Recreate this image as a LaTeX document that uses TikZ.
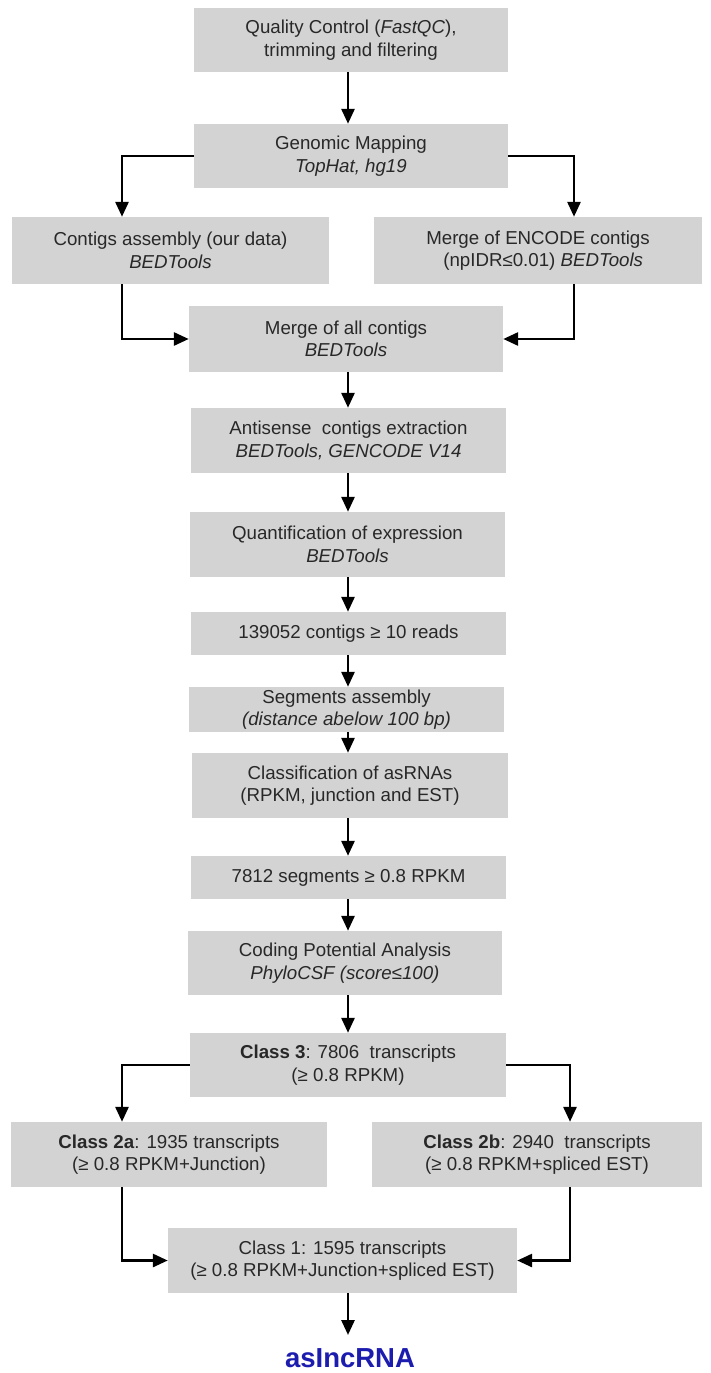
\documentclass[tikz,border=0pt]{standalone}
\usepackage{fontspec}
\setmainfont{Liberation Sans}
\usetikzlibrary{arrows.meta,calc}
\definecolor{boxgray}{RGB}{211,211,211}
\definecolor{txt}{RGB}{40,40,40}
\definecolor{rnablue}{RGB}{28,28,175}
\begin{document}
\begin{tikzpicture}[x=1pt,y=-1pt,
  box/.style={fill=boxgray, text=txt, inner sep=0pt, align=center,
    font=\fontsize{18.7}{22.5}\selectfont},
  arr/.style={line width=2.8pt, -{Triangle[length=15pt,width=13pt]}}]
\fill[white] (0,0) rectangle (711,1373);
\useasboundingbox (0,0) rectangle (711,1373);

\node[box, minimum width=314pt, minimum height=64pt] (qc) at (351,40)
  {Quality Control (\textit{FastQC}),\\trimming and filtering};
\node[box, minimum width=314pt, minimum height=64pt] (gm) at (351,156)
  {Genomic Mapping\\\textit{TopHat, hg19}};
\node[box, minimum width=317pt, minimum height=67pt] (contigs) at (170.5,250.5)
  {Contigs assembly (our data)\\\textit{BEDTools}};
\node[box, minimum width=328pt, minimum height=67pt] (encode) at (538,250.5)
  {Merge of ENCODE contigs\\\ \ (npIDR≤0.01) \textit{BEDTools}};
\node[box, minimum width=314pt, minimum height=66pt] (merge) at (346,339)
  {Merge of all contigs\\\textit{BEDTools}};
\node[box, minimum width=315pt, minimum height=65pt] (anti) at (348.5,440.5)
  {Antisense\ \ contigs extraction\\\textit{BEDTools, GENCODE V14}};
\node[box, minimum width=315pt, minimum height=65pt] (quant) at (347.5,544.5)
  {Quantification of expression\\\textit{BEDTools}};
\node[box, minimum width=315pt, minimum height=43pt] (reads) at (348.5,633.5)
  {139052 contigs ≥ 10 reads};
\node[box, minimum width=315pt, minimum height=45pt] (seg) at (346.5,709.5)
  {Segments assembly\\\textit{(distance abelow 100 bp)}};
\node[box, minimum width=316pt, minimum height=65pt] (cls) at (350,785.5)
  {Classification of asRNAs\\(RPKM, junction and EST)};
\node[box, minimum width=315pt, minimum height=43pt] (rpkm) at (348.5,877.5)
  {7812 segments ≥ 0.8 RPKM};
\node[box, minimum width=314pt, minimum height=64pt] (coding) at (345,963)
  {Coding Potential Analysis\\\textit{PhyloCSF (score≤100)}};
\node[box, minimum width=316pt, minimum height=64pt] (cthree) at (348,1065)
  {\textbf{Class 3}: 7806\ \ transcripts\\(≥ 0.8 RPKM)};
\node[box, minimum width=316pt, minimum height=65pt] (ctwoa) at (169,1154.5)
  {\textbf{Class 2a}: 1935 transcripts\\(≥ 0.8 RPKM+Junction)};
\node[box, minimum width=330pt, minimum height=65pt] (ctwob) at (537,1154.5)
  {\textbf{Class 2b}: 2940\ \ transcripts\\(≥ 0.8 RPKM+spliced EST)};
\node[box, minimum width=349pt, minimum height=65pt] (cone) at (342.5,1260.5)
  {Class 1: 1595 transcripts\\(≥ 0.8 RPKM+Junction+spliced EST)};
\node[text=rnablue, font=\fontsize{27.5}{30}\selectfont\bfseries, inner sep=0pt] (rna) at (350,1358) {asIncRNA};

\coordinate (mx) at (348,0);
\coordinate (lx) at (122,0);
\coordinate (rx) at (574,0);
\coordinate (rx2) at (570,0);
\coordinate (rnatop) at (348,1335);

\draw[arr] (qc.south -| mx) -- (gm.north -| mx);
\draw[arr] (gm.west) -| (lx |- contigs.north);
\draw[arr] (gm.east) -| (rx |- encode.north);
\draw[arr] (lx |- contigs.south) |- (merge.west);
\draw[arr] (rx |- encode.south) |- (merge.east);
\draw[arr] (merge.south -| mx) -- (anti.north -| mx);
\draw[arr] (anti.south -| mx) -- (quant.north -| mx);
\draw[arr] (quant.south -| mx) -- (reads.north -| mx);
\draw[arr] (reads.south -| mx) -- (seg.north -| mx);
\draw[arr] (seg.south -| mx) -- (cls.north -| mx);
\draw[arr] (cls.south -| mx) -- (rpkm.north -| mx);
\draw[arr] (rpkm.south -| mx) -- (coding.north -| mx);
\draw[arr] (coding.south -| mx) -- (cthree.north -| mx);
\draw[arr] (cthree.west) -| (lx |- ctwoa.north);
\draw[arr] (cthree.east) -| (rx2 |- ctwob.north);
\draw[arr] (lx |- ctwoa.south) |- (cone.west);
\draw[arr] (rx2 |- ctwob.south) |- (cone.east);
\draw[arr] (cone.south -| mx) -- (rnatop);
\end{tikzpicture}
\end{document}
